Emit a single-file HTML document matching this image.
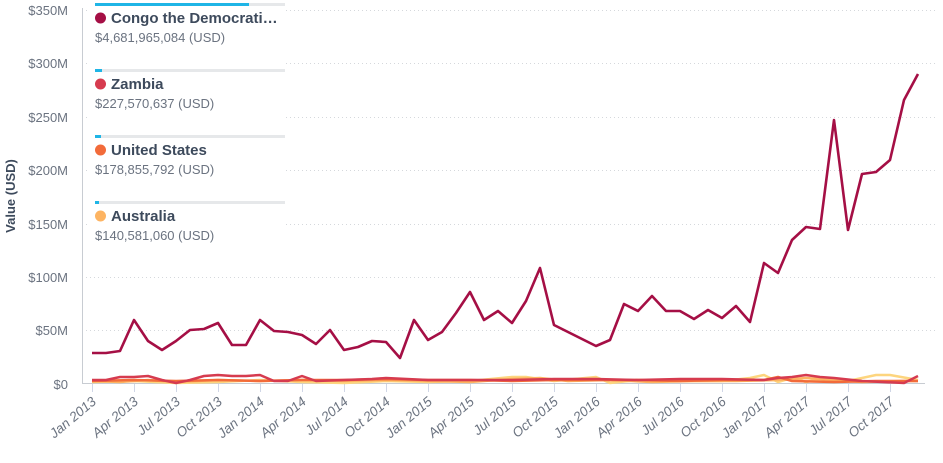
<!DOCTYPE html>
<html><head><meta charset="utf-8"><style>
body{margin:0;background:#fff;font-family:"Liberation Sans",sans-serif}
svg text{font-family:"Liberation Sans",sans-serif}
</style></head><body>
<svg width="943" height="458" viewBox="0 0 943 458">
<g stroke="#d5d8dc" stroke-dasharray="1,3" stroke-width="1">
<line x1="82" x2="935" y1="10.5" y2="10.5"/><line x1="82" x2="935" y1="63.5" y2="63.5"/>
<line x1="82" x2="935" y1="117.5" y2="117.5"/><line x1="82" x2="935" y1="170.5" y2="170.5"/>
<line x1="82" x2="935" y1="224.5" y2="224.5"/><line x1="82" x2="935" y1="277.5" y2="277.5"/>
<line x1="82" x2="935" y1="330.5" y2="330.5"/>
</g>
<line x1="82.5" x2="82.5" y1="8" y2="384" stroke="#c8ccd2"/>
<line x1="82" x2="925" y1="383.5" y2="383.5" stroke="#c8ccd2"/>
<g stroke="#d0d6e6"><line x1="92.5" x2="92.5" y1="384" y2="392"/><line x1="134.5" x2="134.5" y1="384" y2="392"/><line x1="176.5" x2="176.5" y1="384" y2="392"/><line x1="218.5" x2="218.5" y1="384" y2="392"/><line x1="260.5" x2="260.5" y1="384" y2="392"/><line x1="302.5" x2="302.5" y1="384" y2="392"/><line x1="344.5" x2="344.5" y1="384" y2="392"/><line x1="386.5" x2="386.5" y1="384" y2="392"/><line x1="428.5" x2="428.5" y1="384" y2="392"/><line x1="470.5" x2="470.5" y1="384" y2="392"/><line x1="512.5" x2="512.5" y1="384" y2="392"/><line x1="554.5" x2="554.5" y1="384" y2="392"/><line x1="596.5" x2="596.5" y1="384" y2="392"/><line x1="638.5" x2="638.5" y1="384" y2="392"/><line x1="680.5" x2="680.5" y1="384" y2="392"/><line x1="722.5" x2="722.5" y1="384" y2="392"/><line x1="764.5" x2="764.5" y1="384" y2="392"/><line x1="806.5" x2="806.5" y1="384" y2="392"/><line x1="848.5" x2="848.5" y1="384" y2="392"/><line x1="890.5" x2="890.5" y1="384" y2="392"/></g>
<g font-size="13" fill="#6b7380" text-anchor="end">
<text x="68" y="15">$350M</text><text x="68" y="68">$300M</text><text x="68" y="122">$250M</text><text x="68" y="175">$200M</text><text x="68" y="229">$150M</text><text x="68" y="282">$100M</text><text x="68" y="335">$50M</text><text x="68" y="389">$0</text>
</g>
<text transform="translate(15,196) rotate(-90)" font-size="13" font-weight="bold" fill="#3d4a5c" text-anchor="middle">Value (USD)</text>
<g font-size="13.5" fill="#6b7380" text-anchor="end" font-style="italic">
<text transform="translate(97,403) rotate(-40)">Jan 2013</text><text transform="translate(139,403) rotate(-40)">Apr 2013</text><text transform="translate(181,403) rotate(-40)">Jul 2013</text><text transform="translate(223,403) rotate(-40)">Oct 2013</text><text transform="translate(265,403) rotate(-40)">Jan 2014</text><text transform="translate(307,403) rotate(-40)">Apr 2014</text><text transform="translate(349,403) rotate(-40)">Jul 2014</text><text transform="translate(391,403) rotate(-40)">Oct 2014</text><text transform="translate(433,403) rotate(-40)">Jan 2015</text><text transform="translate(475,403) rotate(-40)">Apr 2015</text><text transform="translate(517,403) rotate(-40)">Jul 2015</text><text transform="translate(559,403) rotate(-40)">Oct 2015</text><text transform="translate(601,403) rotate(-40)">Jan 2016</text><text transform="translate(643,403) rotate(-40)">Apr 2016</text><text transform="translate(685,403) rotate(-40)">Jul 2016</text><text transform="translate(727,403) rotate(-40)">Oct 2016</text><text transform="translate(769,403) rotate(-40)">Jan 2017</text><text transform="translate(811,403) rotate(-40)">Apr 2017</text><text transform="translate(853,403) rotate(-40)">Jul 2017</text><text transform="translate(895,403) rotate(-40)">Oct 2017</text>
</g>
<g fill="none" stroke-width="2.5" stroke-linejoin="round">
<polyline stroke="#fdd57e" points="92,382 134,381 176,383 218,382 260,380 302,382 344,383 386,381 428,382 470,381 512,377 526,377 554,381 596,377 610,383 638,380 680,381 722,381 750,378 764,375 778,382 792,378 806,382 820,379 848,381 876,375 890,375 918,380"/>
<polyline stroke="#fdb462" points="92,381 120,382 148,380 176,382 218,380 260,381 302,380 344,381 386,380 428,381 470,382 512,379 540,378 568,381 610,380 652,382 694,381 736,381 778,380 806,378 834,380 862,382 904,381 918,381"/>
<polyline stroke="#f26b3a" points="92,381 134,380 176,381 218,380 260,381 302,380 344,380 386,379 428,380 470,380 512,381 554,380 596,380 638,380 680,381 722,380 764,380 778,377 792,381 834,382 876,381 918,381"/>
<polyline stroke="#d63b4f" points="92,380 106,380 120,377 134,377 148,376 162,380 176,383 190,380 204,376 218,375 232,376 246,376 260,375 274,381 288,381 302,376 316,381 344,380 372,379 386,378 428,380 470,380 512,380 554,379 596,379 638,380 680,379 722,379 764,380 778,378 792,377 806,375 820,377 834,378 862,381 904,383 918,376"/>
<polyline stroke="#a50f45" stroke-width="2.6" points="92,353 106,353 120,351 134,320 148,341 162,350 176,341 190,330 204,329 218,323 232,345 246,345 260,320 274,331 288,332 302,335 316,344 330,330 344,350 358,347 372,341 386,342 400,358 414,320 428,340 442,332 456,313 470,292 484,320 498,311 512,323 526,301 540,268 554,325 568,332 582,339 596,346 610,340 624,304 638,311 652,296 666,311 680,311 694,319 708,310 722,318 736,306 750,322 764,263 778,273 792,240 806,227 820,229 834,120 848,230 862,174 876,172 890,160 904,100 918,74"/>
</g>
<rect x="90" y="0" width="196" height="250" fill="#fff"/>
<g>
<rect x="95" y="3" width="190" height="3" fill="#e6e8ea"/><rect x="95" y="3" width="154" height="3" fill="#1fb5e6"/>
<rect x="95" y="69" width="190" height="3" fill="#e6e8ea"/><rect x="95" y="69" width="7" height="3" fill="#1fb5e6"/>
<rect x="95" y="135" width="190" height="3" fill="#e6e8ea"/><rect x="95" y="135" width="6" height="3" fill="#1fb5e6"/>
<rect x="95" y="201" width="190" height="3" fill="#e6e8ea"/><rect x="95" y="201" width="4" height="3" fill="#1fb5e6"/>
<circle cx="100.5" cy="18" r="5.5" fill="#a50f45"/><circle cx="100.5" cy="84" r="5.5" fill="#d63b4f"/><circle cx="100.5" cy="150" r="5.5" fill="#f26b3a"/><circle cx="100.5" cy="216" r="5.5" fill="#fdb462"/>
<g font-size="15" font-weight="bold" fill="#3d4a5c">
<text x="111" y="23">Congo the Democrati…</text><text x="111" y="89">Zambia</text><text x="111" y="155">United States</text><text x="111" y="221">Australia</text></g>
<g font-size="13" fill="#6b7380">
<text x="95" y="42">$4,681,965,084 (USD)</text><text x="95" y="108">$227,570,637 (USD)</text><text x="95" y="174">$178,855,792 (USD)</text><text x="95" y="240">$140,581,060 (USD)</text></g>
</g>
</svg>
</body></html>
